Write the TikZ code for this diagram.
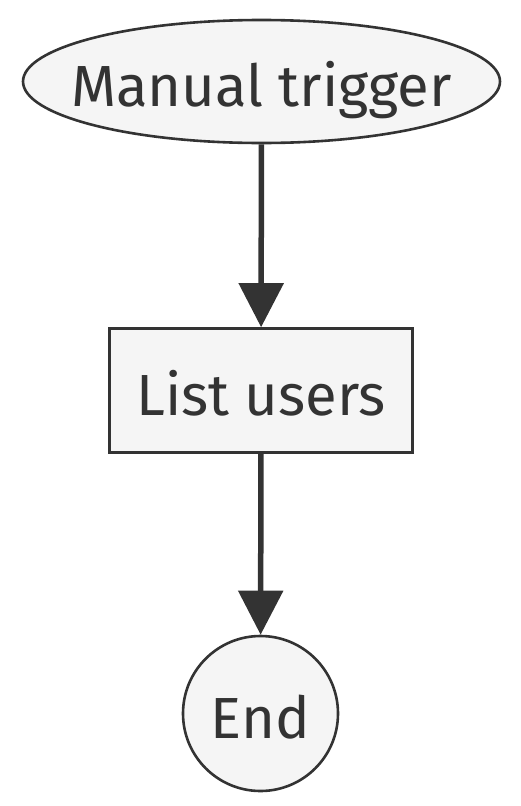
\documentclass[tikz,border=0pt]{standalone}
\usepackage{fontspec}
\setmainfont{Fira Sans}
\usetikzlibrary{arrows.meta,shapes.geometric}
\definecolor{strokec}{HTML}{333333}
\definecolor{fillc}{HTML}{F5F5F5}
\tikzset{
  shapebase/.style={draw=strokec, fill=fillc, line width=2.6pt, text=strokec, inner sep=0pt, text height=50pt, text depth=0pt, font=\fontsize{58}{66}\selectfont},
  startnode/.style={shapebase, ellipse, inner xsep=-80pt, minimum width=477pt, minimum height=123pt},
  procnode/.style={shapebase, rectangle, minimum width=303pt, minimum height=124pt},
  endnode/.style={shapebase, circle, inner sep=-20pt, minimum size=155pt},
  flow/.style={draw=strokec, line width=5.5pt, -{Triangle[length=44pt,width=44pt]}}
}
\begin{document}
\begin{tikzpicture}[x=1pt,y=-1pt]
\useasboundingbox (0,0) rectangle (521,806);
\node[startnode] (trig) at (261.5,81.5) {Manual trigger};
\node[procnode] (list) at (261,390.5) {List users};
\node[endnode] (end) at (260.5,713.5) {End};
\draw[flow] (trig) -- (list);
\draw[flow] (list) -- (end);
\end{tikzpicture}
\end{document}
